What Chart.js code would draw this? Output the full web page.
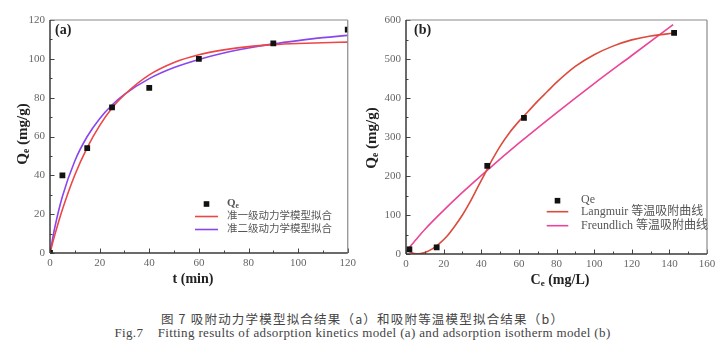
<!DOCTYPE html>
<html><head><meta charset="utf-8">
<script src="https://cdn.jsdelivr.net/npm/chart.js@4.4.1/dist/chart.umd.min.js"></script>
<style>
html,body{margin:0;padding:0;background:#fff;}
body{width:721px;height:356px;position:relative;overflow:hidden;}
#ca{position:absolute;left:0;top:0;}
#cb{position:absolute;left:360px;top:0;}
.cap{position:absolute;left:0;width:725px;text-align:center;white-space:pre;color:#444;line-height:14px;height:14px;}
#cap1{top:312px;font-family:'Noto Sans CJK SC',sans-serif;font-size:12.5px;letter-spacing:1.2px;}
#cap2{top:326px;font-family:'Liberation Serif',serif;font-size:13px;letter-spacing:0.35px;}
</style></head>
<body>
<canvas id="ca" width="360" height="292"></canvas>
<canvas id="cb" width="361" height="292"></canvas>
<div class="cap" id="cap1">图 7 吸附动力学模型拟合结果（a）和吸附等温模型拟合结果（b）</div>
<div class="cap" id="cap2">Fig.7    Fitting results of adsorption kinetics model (a) and adsorption isotherm model (b)</div>
<script>
// ---- Panel (a): adsorption kinetics ----
const kinT = [0, 5, 15, 25, 40, 60, 90, 120];
const kinQ = [0, 40, 54, 75, 85, 100, 108, 115];
const fitT = [0, 2, 5, 10, 15, 20, 25, 30, 40, 50, 60, 70, 80, 90, 100, 110, 120];
const pfoQ = [0, 9.6, 22.4, 40.2, 54.3, 65.6, 74.7, 81.5, 91.7, 98.1, 102.1, 104.6, 106.3, 107.3, 107.9, 108.3, 108.6];
const psoQ = [0, 13.5, 29.1, 47.4, 60.0, 69.2, 76.2, 81.7, 89.8, 95.5, 99.7, 103.0, 105.6, 107.7, 109.4, 110.9, 112.1];
const labelsA = ['Q{e}', '准一级动力学模型拟合', '准二级动力学模型拟合'];
const titleAX = 't (min)';
const titleAY = 'Q{e} (mg/g)';

// ---- Panel (b): adsorption isotherm ----
const isoC = [1.8, 16.3, 43.2, 62.7, 142.5];
const isoQ = [12, 17, 226, 349, 567];
const langC = [0.7, 3, 6, 10, 14, 18, 22, 26, 30, 34, 38, 42, 46, 50, 55, 60, 65, 70, 75, 80, 90, 100, 110, 120, 130, 142];
const langQ = [10, 3, 0.5, 4, 13, 28, 47, 72, 100, 133, 170, 207, 243, 276, 311, 340, 366, 392, 416, 440, 481, 511, 533, 549, 559, 566];
const freC = [0.7, 2, 5, 10, 20, 30, 43, 60, 80, 100, 120, 142];
const freQ = [10, 18, 35, 63, 112, 158, 214, 284, 362, 437, 509, 588];
const labelsB = ['Qe', 'Langmuir 等温吸附曲线', 'Freundlich 等温吸附曲线'];
const titleBX = 'C{e} (mg/L)';
const titleBY = 'Q{e} (mg/g)';

function pts(xs, ys) { return xs.map((x, i) => ({x: x, y: ys[i]})); }

function parseRich(str) {
  const parts = []; const re = /\{([^}]*)\}/g; let last = 0, m;
  while ((m = re.exec(str))) {
    if (m.index > last) parts.push({t: str.slice(last, m.index)});
    parts.push({t: m[1], sub: true}); last = re.lastIndex;
  }
  if (last < str.length) parts.push({t: str.slice(last)});
  return parts;
}
function drawRich(ctx, str, x, y, font, subFont, subDy, align) {
  const parts = parseRich(str); let w = 0;
  parts.forEach(p => { ctx.font = p.sub ? subFont : font; p.w = ctx.measureText(p.t).width; w += p.w; });
  let cx = align === 'center' ? x - w / 2 : x;
  ctx.textBaseline = 'middle'; ctx.textAlign = 'left';
  parts.forEach(p => { ctx.font = p.sub ? subFont : font; ctx.fillText(p.t, cx, p.sub ? y + subDy : y); cx += p.w; });
}
function seg(ctx, x0, y0, x1, y1) { ctx.beginPath(); ctx.moveTo(x0, y0); ctx.lineTo(x1, y1); ctx.stroke(); }

const deco = {
  id: 'deco',
  afterDraw(chart, args, o) {
    const ctx = chart.ctx, a = chart.chartArea, sx = chart.scales.x, sy = chart.scales.y;
    ctx.save();
    ctx.strokeStyle = '#444'; ctx.lineWidth = 1;
    const isMajor = (v, s) => Math.abs(v / s - Math.round(v / s)) < 1e-6;
    for (let v = sx.min; v <= sx.max + 1e-9; v += o.xMinor) {
      const px = Math.round(sx.getPixelForValue(v)) + 0.5;
      seg(ctx, px, a.bottom, px, a.bottom - (isMajor(v, o.xMajor) ? 4.5 : 2.5));
    }
    for (let v = sy.min; v <= sy.max + 1e-9; v += o.yMinor) {
      const py = Math.round(sy.getPixelForValue(v)) + 0.5;
      seg(ctx, a.left, py, a.left + (isMajor(v, o.yMajor) ? 4.5 : 2.5), py);
    }
    // frame
    ctx.lineWidth = 1.2; ctx.strokeStyle = '#8a8a8a';
    seg(ctx, a.left, a.top, a.right, a.top);
    seg(ctx, a.right, a.top, a.right, a.bottom);
    ctx.lineWidth = 1.5; ctx.strokeStyle = '#3a3a3a';
    seg(ctx, a.left, a.top, a.left, a.bottom);
    seg(ctx, a.left, a.bottom, a.right, a.bottom);
    // panel tag
    ctx.fillStyle = '#222'; ctx.font = "bold 14px 'Liberation Serif'";
    ctx.textBaseline = 'middle'; ctx.textAlign = 'left';
    ctx.fillText(o.tag, o.tagX, o.tagY);
    // axis titles
    ctx.fillStyle = '#222';
    drawRich(ctx, o.xTitle, o.xTitleX, o.xTitleY, "bold 14px 'Liberation Serif'", "bold 9px 'Liberation Serif'", 4, 'center');
    ctx.save(); ctx.translate(o.yTitleX, o.yTitleY); ctx.rotate(-Math.PI / 2);
    drawRich(ctx, o.yTitle, 0, 0, "bold 15px 'Liberation Serif'", "bold 9.5px 'Liberation Serif'", 4, 'center');
    ctx.restore();
    // legend
    const L = o.legend;
    chart.data.datasets.forEach((ds, i) => {
      const yy = L.ys[i];
      if (ds.showLine) {
        ctx.strokeStyle = ds.borderColor; ctx.lineWidth = 1.6;
        seg(ctx, L.x0, yy, L.x1, yy);
      } else {
        ctx.fillStyle = ds.backgroundColor;
        const mx = (L.x0 + L.x1) / 2;
        ctx.fillRect(mx - 2.8, yy - 2.8, 5.6, 5.6);
      }
      ctx.fillStyle = '#555';
      if (i === 0) drawRich(ctx, ds.label, L.tx, yy - 1, L.font0, L.subFont, 3, 'left');
      else drawRich(ctx, ds.label, L.tx, yy, L.font, L.subFont, 3, 'left');
    });
    ctx.restore();
  }
};

function makeChart(id, datasets, xr, yr, deco0, pad, yW, xH) {
  return new Chart(document.getElementById(id), {
    type: 'scatter',
    data: { datasets: datasets },
    options: {
      responsive: false, animation: false,
      layout: { padding: pad },
      plugins: { legend: { display: false }, tooltip: { enabled: false }, deco: deco0 },
      scales: {
        x: { type: 'linear', min: xr[0], max: xr[1],
             grid: { display: false, drawTicks: false }, border: { display: false },
             ticks: { stepSize: xr[2], padding: 4, color: '#666', font: { family: 'Liberation Serif', size: 11 } },
             afterFit: s => { s.height = xH; } },
        y: { type: 'linear', min: yr[0], max: yr[1],
             grid: { display: false, drawTicks: false }, border: { display: false },
             ticks: { stepSize: yr[2], padding: 5, color: '#666', font: { family: 'Liberation Serif', size: 11 } },
             afterFit: s => { s.width = yW; } }
      }
    },
    plugins: [deco]
  });
}

function markerDs(label, xs, ys) {
  return { label: label, data: pts(xs, ys), showLine: false, pointStyle: 'rect', pointRadius: 4.1,
           pointHoverRadius: 4.1, backgroundColor: '#111', borderColor: '#111', borderWidth: 0, order: 0 };
}
function lineDs(label, xs, ys, color) {
  return { label: label, data: pts(xs, ys), showLine: true, pointRadius: 0, borderColor: color,
           backgroundColor: color, borderWidth: 1.6, cubicInterpolationMode: 'monotone', order: 1 };
}

makeChart('ca', [
  markerDs(labelsA[0], kinT, kinQ),
  lineDs(labelsA[1], fitT, pfoQ, '#ee4646'),
  lineDs(labelsA[2], fitT, psoQ, '#8a46ee')
], [0, 120, 20], [0, 120, 20], {
  xMinor: 10, xMajor: 20, yMinor: 10, yMajor: 20,
  tag: '(a)', tagX: 55, tagY: 30,
  xTitle: titleAX, xTitleX: 193, xTitleY: 279,
  yTitle: titleAY, yTitleX: 23, yTitleY: 134,
  legend: { x0: 195, x1: 218, ys: [204, 216.5, 229.5], tx: 227,
            font0: "bold 11px 'Liberation Serif'", font: "10.5px 'Liberation Serif','Noto Sans CJK SC'",
            subFont: "bold 7.5px 'Liberation Serif'" }
}, { left: 0, right: 12, top: 20, bottom: 0 }, 50, 39);

makeChart('cb', [
  markerDs(labelsB[0], isoC, isoQ),
  lineDs(labelsB[1], langC, langQ, '#dc4a3c'),
  lineDs(labelsB[2], freC, freQ, '#ec4496')
], [0, 160, 20], [0, 600, 100], {
  xMinor: 10, xMajor: 20, yMinor: 50, yMajor: 100,
  tag: '(b)', tagX: 54, tagY: 30,
  xTitle: titleBX, xTitleX: 200, xTitleY: 280,
  yTitle: titleBY, yTitleX: 12, yTitleY: 138,
  legend: { x0: 186.7, x1: 208.3, ys: [200.7, 211.7, 225.7], tx: 221,
            font0: "12px 'Liberation Serif'", font: "12px 'Liberation Serif','Noto Sans CJK SC'",
            subFont: "8px 'Liberation Serif'" }
}, { left: 0, right: 14, top: 20, bottom: 0 }, 46, 38);
</script>
</body></html>
